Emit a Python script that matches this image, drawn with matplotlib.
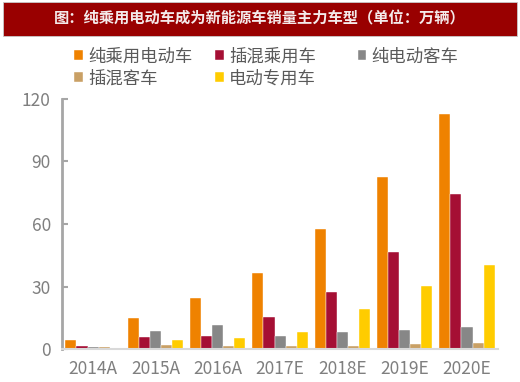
import numpy as np
import matplotlib
matplotlib.use("Agg")
import matplotlib.pyplot as plt
from matplotlib.patches import Rectangle

plt.rcParams["font.family"] = ["Noto Sans CJK SC", "DejaVu Sans"]

# データ
years = ["2014A", "2015A", "2016A", "2017E", "2018E", "2019E", "2020E"]
series_names = ["纯乘用电动车", "插混乘用车", "纯电动客车", "插混客车", "电动专用车"]
bev_passenger = [4.6, 14.9, 24.5, 36.5, 57.6, 82.6, 112.8]
phev_passenger = [1.6, 5.9, 6.4, 15.4, 27.4, 46.4, 74.6]
bev_bus = [1.1, 8.6, 11.4, 6.2, 8.3, 9.4, 10.4]
phev_bus = [1.1, 2.2, 1.3, 1.3, 1.6, 2.4, 2.9]
special = [0.0, 4.6, 5.4, 8.3, 19.4, 30.4, 40.5]
colors = ["#EF8200", "#A50F34", "#878787", "#C9A065", "#FFCC00"]
yticks = [0, 30, 60, 90, 120]

fig = plt.figure(figsize=(5.2, 3.82), dpi=100)

# タイトル帯
fig.patches.append(Rectangle((0.006, 0.906), 0.988, 0.09, transform=fig.transFigure,
                             facecolor="#990000", edgecolor="#c8c8c8", lw=0.6))
fig.text(0.5, 0.951, "图：纯乘用电动车成为新能源车销量主力车型（单位：万辆）",
         ha="center", va="center", color="#f4eaea", fontsize=11, fontweight="bold")

ax = fig.add_axes([0.119, 0.086, 0.839, 0.655])
data = [bev_passenger, phev_passenger, bev_bus, phev_bus, special]
x = np.arange(len(years))
w = 0.177
handles = []
for i, (vals, c) in enumerate(zip(data, colors)):
    b = ax.bar(x + (i - 2) * w, vals, width=w, color=c, edgecolor="white", linewidth=0.3,
               label=series_names[i])
    handles.append(b)

ax.set_xlim(-0.5, len(years) - 0.5)
ax.set_ylim(0, 120)
ax.set_yticks(yticks)
ax.set_xticks(x)
ax.set_xticklabels(years)
ax.tick_params(axis="y", direction="in", length=4, width=1.5, color="#a6a6a6",
               labelsize=12.5, labelcolor="#7f7f7f", pad=8)
ax.tick_params(axis="x", length=0, labelsize=12.5, labelcolor="#7f7f7f", pad=8)
for s in ["top", "right"]:
    ax.spines[s].set_visible(False)
ax.spines["left"].set_color("#a6a6a6")
ax.spines["left"].set_linewidth(2)
ax.spines["bottom"].set_color("#d9d9d9")
ax.spines["bottom"].set_linewidth(1.5)

# 凡例（列ごとに配置）
columns = [[0, 3], [1, 4], [2]]
col_x = [0.143, 0.414, 0.688]
for idx, cx in zip(columns, col_x):
    leg = fig.legend([handles[i] for i in idx], [series_names[i] for i in idx],
                     loc="upper left", bbox_to_anchor=(cx, 0.876), frameon=False,
                     fontsize=12.5, handlelength=0.5, handleheight=0.5, handletextpad=0.3,
                     labelspacing=0.22, borderaxespad=0, borderpad=0)
    for t in leg.get_texts():
        t.set_color("#595959")

plt.savefig("out.png", dpi=100)
